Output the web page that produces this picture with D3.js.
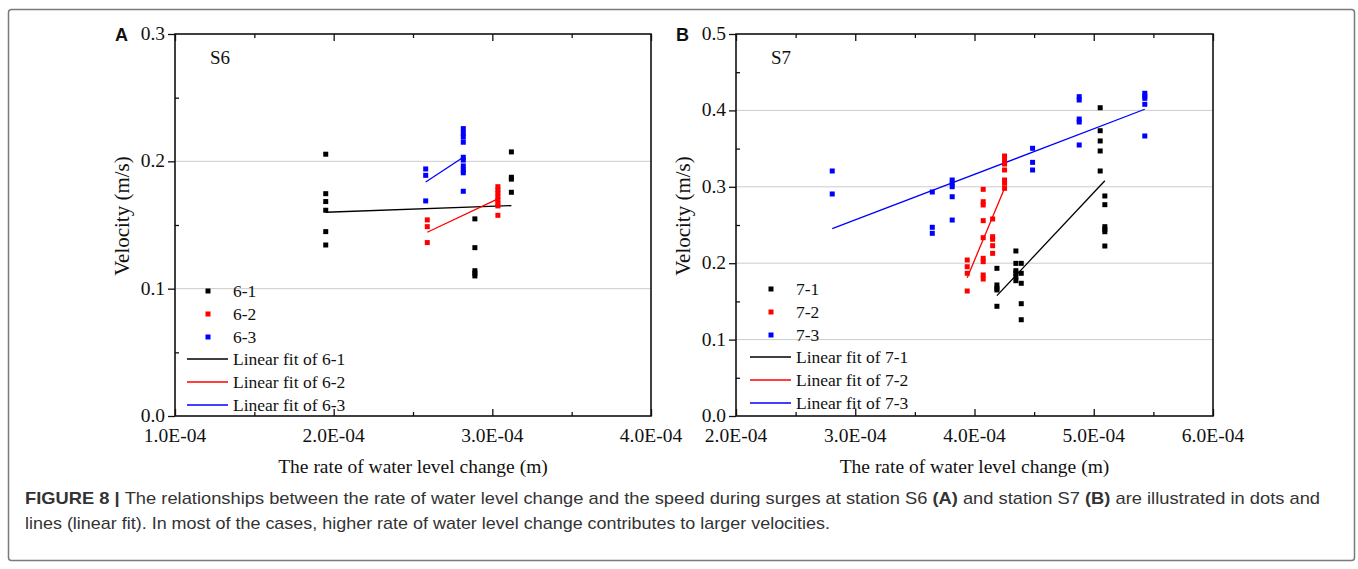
<!DOCTYPE html>
<html>
<head>
<meta charset="utf-8">
<script src="https://cdn.jsdelivr.net/npm/d3@7"></script>
<style>
  body { margin: 0; background: #fff; }
</style>
</head>
<body>
<svg id="fig" width="1358" height="569"></svg>
<script>
//=========================== data ============================================

// station S6, [rate of water level change (m), velocity (m/s)]
var s6_1 = [
    [1.95e-4, 0.2056], [1.95e-4, 0.1746], [1.95e-4, 0.1684], [1.95e-4, 0.1616],
    [1.95e-4, 0.1448], [1.95e-4, 0.1343],
    [2.89e-4, 0.1548], [2.89e-4, 0.1322], [2.89e-4, 0.1141], [2.89e-4, 0.1121],
    [2.89e-4, 0.1100],
    [3.12e-4, 0.2074], [3.12e-4, 0.1875], [3.12e-4, 0.1860], [3.12e-4, 0.1757]
];
var s6_2 = [
    [2.59e-4, 0.1540], [2.59e-4, 0.1487], [2.59e-4, 0.1362],
    [3.035e-4, 0.1801], [3.035e-4, 0.1775], [3.035e-4, 0.1750], [3.035e-4, 0.1723],
    [3.035e-4, 0.1697], [3.035e-4, 0.1670], [3.035e-4, 0.1650], [3.035e-4, 0.1576]
];
var s6_3 = [
    [2.58e-4, 0.1940], [2.58e-4, 0.1890], [2.58e-4, 0.1689],
    [2.817e-4, 0.2257], [2.817e-4, 0.2220], [2.817e-4, 0.2190], [2.817e-4, 0.2150],
    [2.817e-4, 0.2032], [2.817e-4, 0.2010], [2.817e-4, 0.1964], [2.817e-4, 0.1932],
    [2.817e-4, 0.1910], [2.817e-4, 0.1765]
];
// linear fits: [x start, y start], [x end, y end]
var fit6_1 = [[1.95e-4, 0.1600], [3.12e-4, 0.1652]];
var fit6_2 = [[2.59e-4, 0.1443], [3.035e-4, 0.1705]];
var fit6_3 = [[2.58e-4, 0.1838], [2.817e-4, 0.2032]];

// station S7
var s7_1 = [
    [4.188e-4, 0.1933], [4.188e-4, 0.1715], [4.188e-4, 0.1671], [4.188e-4, 0.1650],
    [4.188e-4, 0.1436],
    [4.347e-4, 0.2160], [4.347e-4, 0.1998], [4.347e-4, 0.1902], [4.347e-4, 0.1868],
    [4.347e-4, 0.1823], [4.347e-4, 0.1771],
    [4.392e-4, 0.1998], [4.392e-4, 0.1868], [4.392e-4, 0.1737], [4.392e-4, 0.1470],
    [4.392e-4, 0.1260],
    [5.054e-4, 0.4035], [5.054e-4, 0.3734], [5.054e-4, 0.3600], [5.054e-4, 0.3469],
    [5.054e-4, 0.3207],
    [5.093e-4, 0.2880], [5.093e-4, 0.2766], [5.093e-4, 0.2478], [5.093e-4, 0.2443],
    [5.093e-4, 0.2412], [5.093e-4, 0.2225]
];
var s7_2 = [
    [3.939e-4, 0.2042], [3.939e-4, 0.1954], [3.939e-4, 0.1868], [3.939e-4, 0.1636],
    [4.073e-4, 0.2967], [4.073e-4, 0.2805], [4.073e-4, 0.2762], [4.073e-4, 0.2557],
    [4.073e-4, 0.2334], [4.073e-4, 0.2064], [4.073e-4, 0.2020], [4.073e-4, 0.1846],
    [4.073e-4, 0.1793],
    [4.152e-4, 0.2579], [4.152e-4, 0.2347], [4.152e-4, 0.2313], [4.152e-4, 0.2229],
    [4.152e-4, 0.2129],
    [4.252e-4, 0.3403], [4.252e-4, 0.3351], [4.252e-4, 0.3298], [4.252e-4, 0.3220],
    [4.252e-4, 0.3089], [4.252e-4, 0.3046], [4.252e-4, 0.2980]
];
var s7_3 = [
    [2.807e-4, 0.3207], [2.807e-4, 0.2906],
    [3.646e-4, 0.2932], [3.646e-4, 0.2470], [3.646e-4, 0.2391],
    [3.813e-4, 0.3089], [3.813e-4, 0.3046], [3.813e-4, 0.3001], [3.813e-4, 0.2870],
    [3.813e-4, 0.2565],
    [4.487e-4, 0.3504], [4.487e-4, 0.3320], [4.487e-4, 0.3220],
    [4.878e-4, 0.4180], [4.878e-4, 0.4136], [4.878e-4, 0.3887], [4.878e-4, 0.3848],
    [4.878e-4, 0.3547],
    [5.428e-4, 0.4224], [5.428e-4, 0.4188], [5.428e-4, 0.4158], [5.428e-4, 0.4080],
    [5.428e-4, 0.3665]
];
var fit7_1 = [[4.188e-4, 0.1575], [5.093e-4, 0.3080]];
var fit7_2 = [[3.939e-4, 0.1810], [4.252e-4, 0.2980]];
var fit7_3 = [[2.807e-4, 0.2452], [5.428e-4, 0.4015]];

var xTicksA = [1e-4, 2e-4, 3e-4, 4e-4];
var yTicksA = [0.0, 0.1, 0.2, 0.3];
var xTicksB = [2e-4, 3e-4, 4e-4, 5e-4, 6e-4];
var yTicksB = [0.0, 0.1, 0.2, 0.3, 0.4, 0.5];

var seriesColors = ['#000000', '#ff0000', '#0000ff'];

var SERIF = 'Liberation Serif';
var SANS = 'Liberation Sans';

//=========================== drawing =========================================

var svg = d3.select('#fig');

// figure frame
svg.append('rect')
    .attr('x', 8.5).attr('y', 9.5)
    .attr('width', 1346).attr('height', 551)
    .attr('rx', 3)
    .attr('fill', 'none')
    .attr('stroke', '#7a7a7a')
    .attr('stroke-width', 1.5);

function tickAxis(g, axis, transform) {
    var a = g.append('g').attr('transform', transform);
    a.call(axis.tickSizeOuter(0).tickFormat(''));
    a.select('.domain').remove();
    a.selectAll('.tick text').remove();
    a.selectAll('.tick line').attr('stroke', '#111').attr('stroke-width', 1.3);
    return a;
}

function drawPanel(p) {

    var x = d3.scaleLinear().domain(p.xDomain).range([p.left, p.right]);
    var y = d3.scaleLinear().domain(p.yDomain).range([p.bottom, p.top]);
    var g = svg.append('g');

    // grid lines
    g.selectAll('.grid')
        .data(p.yTicks.slice(1, -1))
        .enter().append('line')
        .attr('x1', p.left).attr('x2', p.right)
        .attr('y1', d => y(d)).attr('y2', d => y(d))
        .attr('stroke', '#cccccc')
        .attr('stroke-width', 1);

    var fmtX = v => (v * 1e4).toFixed(1) + 'E-04';
    var fmtY = d3.format('.1f');
    var xMinor = d3.range(p.xDomain[0] + 0.5e-4, p.xDomain[1], 1e-4);
    var yMinor = p.yTicks.slice(0, -1).map(v => v + 0.05);

    // bottom and top: ticks inward; left: major out, minor in
    tickAxis(g, d3.axisBottom(x).tickValues(p.xTicks).tickSizeInner(-7), 'translate(0,' + p.bottom + ')');
    tickAxis(g, d3.axisBottom(x).tickValues(xMinor).tickSizeInner(-4), 'translate(0,' + p.bottom + ')');
    tickAxis(g, d3.axisTop(x).tickValues(p.xTicks).tickSizeInner(-7), 'translate(0,' + p.top + ')');
    tickAxis(g, d3.axisTop(x).tickValues(xMinor).tickSizeInner(-4), 'translate(0,' + p.top + ')');
    tickAxis(g, d3.axisLeft(y).tickValues(p.yTicks).tickSizeInner(7), 'translate(' + p.left + ',0)');
    tickAxis(g, d3.axisLeft(y).tickValues(yMinor).tickSizeInner(-4), 'translate(' + p.left + ',0)');

    // tick labels
    g.selectAll(null)
        .data(p.xTicks)
        .enter().append('text')
        .attr('x', d => x(d))
        .attr('y', p.bottom + 26)
        .attr('text-anchor', 'middle')
        .attr('font-family', SERIF)
        .attr('font-size', 19.5)
        .attr('fill', '#111')
        .text(fmtX);
    g.selectAll(null)
        .data(p.yTicks)
        .enter().append('text')
        .attr('x', p.left - 10)
        .attr('y', d => y(d) + 6)
        .attr('text-anchor', 'end')
        .attr('font-family', SERIF)
        .attr('font-size', 19.5)
        .attr('fill', '#111')
        .text(fmtY);

    // plot frame
    g.append('rect')
        .attr('x', p.left).attr('y', p.top)
        .attr('width', p.right - p.left).attr('height', p.bottom - p.top)
        .attr('fill', 'none')
        .attr('stroke', '#111')
        .attr('stroke-width', 1.6);

    // fit lines
    p.fits.forEach(function(f, i) {
        g.append('line')
            .attr('x1', x(f[0][0])).attr('y1', y(f[0][1]))
            .attr('x2', x(f[1][0])).attr('y2', y(f[1][1]))
            .attr('stroke', seriesColors[i])
            .attr('stroke-width', 1.3);
    });

    // scatter points
    p.series.forEach(function(s, i) {
        g.selectAll(null)
            .data(s)
            .enter().append('rect')
            .attr('x', d => x(d[0]) - 2.5)
            .attr('y', d => y(d[1]) - 2.5)
            .attr('width', 5).attr('height', 5)
            .attr('fill', seriesColors[i]);
    });

    // station label
    g.append('text')
        .attr('x', p.left + p.stationDx).attr('y', p.top + 30)
        .attr('font-family', SERIF)
        .attr('font-size', 19)
        .attr('fill', '#111')
        .text(p.station);

    // panel letter
    g.append('text')
        .attr('x', p.left - 60).attr('y', p.top + 7)
        .attr('font-family', SANS)
        .attr('font-weight', 'bold')
        .attr('font-size', 18)
        .attr('fill', '#111')
        .text(p.letter);

    // axis titles
    g.append('text')
        .attr('x', (p.left + p.right) / 2).attr('y', p.bottom + 57)
        .attr('text-anchor', 'middle')
        .attr('font-family', SERIF)
        .attr('font-size', 19.5)
        .attr('fill', '#111')
        .text('The rate of water level change (m)');
    g.append('text')
        .attr('transform', 'translate(' + (p.left - 46) + ',' + (p.top + 182) + ') rotate(-90)')
        .attr('text-anchor', 'middle')
        .attr('font-family', SERIF)
        .attr('font-size', 21)
        .attr('fill', '#111')
        .text('Velocity (m/s)');

    // legend
    var lg = g.append('g').attr('transform', 'translate(' + p.legendX + ',' + p.legendY + ')')
        .attr('font-family', SERIF)
        .attr('font-size', 17.5);
    p.names.forEach(function(n, i) {
        lg.append('rect')
            .attr('x', 21 - 2.5).attr('y', i * 23 - 2.5)
            .attr('width', 5).attr('height', 5)
            .attr('fill', seriesColors[i]);
        lg.append('text')
            .attr('x', 46).attr('y', i * 23 + 6)
            .attr('fill', '#111')
            .text(n);
    });
    p.names.forEach(function(n, i) {
        var yy = 68 + i * 23;
        lg.append('line')
            .attr('x1', 0).attr('x2', 41)
            .attr('y1', yy).attr('y2', yy)
            .attr('stroke', seriesColors[i])
            .attr('stroke-width', 1.3);
        lg.append('text')
            .attr('x', 46).attr('y', yy + 6)
            .attr('fill', '#111')
            .text('Linear fit of ' + n);
    });
}

drawPanel({
    left: 175, right: 651, top: 34, bottom: 416,
    xDomain: [1e-4, 4e-4], yDomain: [0, 0.3],
    xTicks: xTicksA, yTicks: yTicksA,
    series: [s6_1, s6_2, s6_3], fits: [fit6_1, fit6_2, fit6_3],
    names: ['6-1', '6-2', '6-3'],
    station: 'S6', stationDx: 35, letter: 'A',
    legendX: 187, legendY: 291
});

drawPanel({
    left: 736, right: 1213, top: 34, bottom: 416,
    xDomain: [2e-4, 6e-4], yDomain: [0, 0.5],
    xTicks: xTicksB, yTicks: yTicksB,
    series: [s7_1, s7_2, s7_3], fits: [fit7_1, fit7_2, fit7_3],
    names: ['7-1', '7-2', '7-3'],
    station: 'S7', stationDx: 35, letter: 'B',
    legendX: 750, legendY: 289
});

//=========================== caption =========================================

var cap = svg.append('g')
    .attr('font-family', SANS)
    .attr('font-size', 17)
    .attr('fill', '#333');
var line1 = cap.append('text')
    .attr('x', 25).attr('y', 504)
    .attr('textLength', 1295)
    .attr('lengthAdjust', 'spacingAndGlyphs');
line1.append('tspan').attr('font-weight', 'bold').text('FIGURE 8 | ');
line1.append('tspan').text('The relationships between the rate of water level change and the speed during surges at station S6 ');
line1.append('tspan').attr('font-weight', 'bold').text('(A)');
line1.append('tspan').text(' and station S7 ');
line1.append('tspan').attr('font-weight', 'bold').text('(B)');
line1.append('tspan').text(' are illustrated in dots and');
cap.append('text')
    .attr('x', 25).attr('y', 529)
    .attr('textLength', 805)
    .attr('lengthAdjust', 'spacingAndGlyphs')
    .text('lines (linear fit). In most of the cases, higher rate of water level change contributes to larger velocities.');
</script>
</body>
</html>
